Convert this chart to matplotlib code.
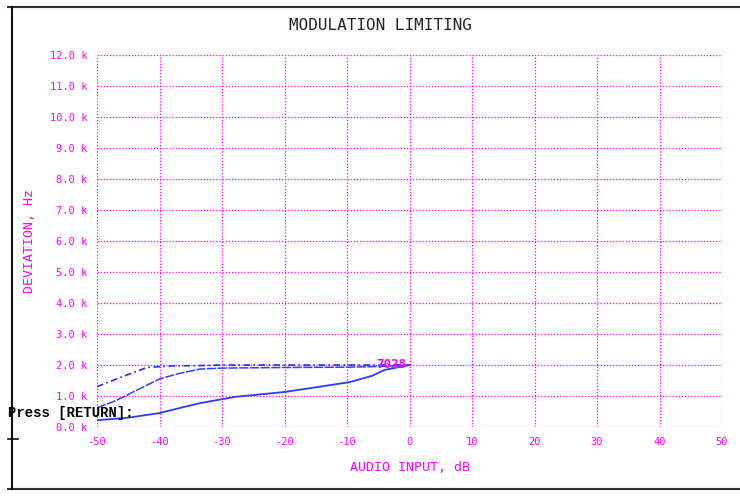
import matplotlib
matplotlib.use("Agg")
import matplotlib.pyplot as plt
from matplotlib.lines import Line2D

# Data
x_dashdot = [-50, -46, -42, -38, -34, -30, -20, -10, -5, 0]
y_dashdot = [1.30, 1.62, 1.92, 1.97, 1.98, 2.0, 2.0, 2.0, 2.0, 2.0]

x_mid = [-50, -47, -44, -40, -37, -33.5, -30, -20, -10, -5, 0]
y_mid = [0.62, 0.85, 1.15, 1.55, 1.72, 1.87, 1.9, 1.92, 1.93, 1.95, 2.0]

x_low = [-50, -45, -40, -36, -33.5, -28, -20, -15, -9.5, -6, -4, 0]
y_low = [0.22, 0.30, 0.45, 0.65, 0.77, 0.97, 1.13, 1.28, 1.45, 1.65, 1.84, 2.0]

x_ticks = [-50, -40, -30, -20, -10, 0, 10, 20, 30, 40, 50]
y_ticks = [0, 1, 2, 3, 4, 5, 6, 7, 8, 9, 10, 11, 12]
y_ticklabels = ["%.1f k" % v for v in y_ticks]

MAG = "#ff00ff"
mono = "DejaVu Sans Mono"

fig = plt.figure(figsize=(7.4, 4.99), dpi=100)
ax = fig.add_axes([97/740, 1-427/499, (722-97)/740, (427-55)/499])
ax.set_xlim(-50, 50)
ax.set_ylim(0, 12)
for s in ax.spines.values():
    s.set_visible(False)

for xv in x_ticks:
    ax.axvline(xv, color=MAG, lw=0.9, ls=(0, (1, 1.5)), zorder=1)
for yv in y_ticks:
    ax.axhline(yv, color=MAG, lw=0.9, ls=(0, (1, 1.5)), zorder=1)

ax.set_xticks(x_ticks)
ax.set_xticklabels([str(v) for v in x_ticks], family=mono, color=MAG, fontsize=7.5)
ax.set_yticks(y_ticks)
ax.set_yticklabels(y_ticklabels, family=mono, color=MAG, fontsize=7.5)
ax.tick_params(axis="both", colors=MAG, length=0, pad=7)

ax.plot(x_dashdot, y_dashdot, color="#2030ff", lw=1.2, ls=(0, (4, 2, 1, 2)), zorder=3)
ax.plot(x_mid, y_mid, color="#3040ff", lw=1.1, ls=(0, (6, 1)), zorder=3)
ax.plot(x_low, y_low, color="#2a3cff", lw=1.3, zorder=3)
ax.text(-3, 2.0, "7028", color=MAG, fontsize=9, family=mono, fontweight="bold",
        ha="center", va="center", zorder=4)

ax.set_xlabel("AUDIO INPUT, dB", family=mono, color=MAG, fontsize=9.5)
ax.xaxis.set_label_coords(0.5, -0.092)
ax.set_ylabel("DEVIATION, Hz", family=mono, color=MAG, fontsize=9.5)
ax.yaxis.set_label_coords(-0.098, 0.5)

fig.text(380/740, 1-25/499, "MODULATION LIMITING", family=mono, fontsize=11.5,
         ha="center", va="center", color="#222222")

# outer frame lines
fig.add_artist(Line2D([8/740, 1.0], [1-7/499, 1-7/499], color="#333333", lw=1.5,
                      transform=fig.transFigure))
fig.add_artist(Line2D([8/740, 1.0], [1-489/499, 1-489/499], color="#333333", lw=1.5,
                      transform=fig.transFigure))
fig.add_artist(Line2D([12/740, 12/740], [1-7/499, 1-489/499], color="#111111", lw=1.5,
                      transform=fig.transFigure))
fig.add_artist(Line2D([8/740, 18/740], [1-439/499, 1-439/499], color="#111111", lw=1.2,
                      transform=fig.transFigure))

fig.text(8/740, 1-413/499, "Press [RETURN]:", family="Liberation Mono", fontsize=10,
         fontweight="bold", ha="left", va="center", color="black", zorder=10)

fig.savefig("out.png", dpi=100)
